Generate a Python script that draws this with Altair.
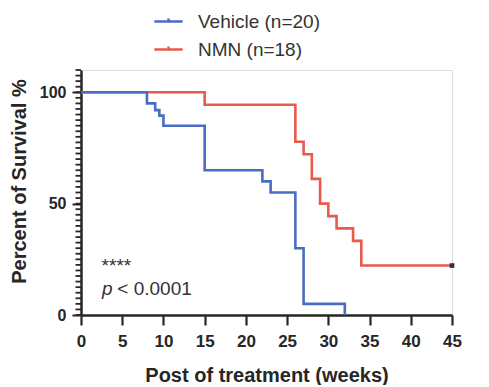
import altair as alt
import pandas as pd

# ---- data ----
groups = ["Vehicle (n=20)", "NMN (n=18)"]
colors = ["#4a6cc2", "#ea5a4c"]

veh_weeks = [0, 8, 9, 9.5, 10, 15, 22, 23, 26, 27, 32]
veh_surv = [100, 95, 92, 89.5, 85, 65, 60, 55, 30, 5, 0]

nmn_weeks = [0, 15, 26, 27, 28, 29, 30, 31, 33, 34, 45]
nmn_surv = [100, 94.4, 77.8, 72.2, 61.1, 50, 44.4, 38.9, 33.3, 22.2, 22.2]

censor_weeks = [45]
censor_surv = [22.2]

x_ticks = list(range(0, 46, 5))
y_major = [0, 50, 100]
y_minor = [i * 2.5 for i in range(45)]  # 0 .. 110, minor every 2.5

stars_text = ["****"]
stars_x = [2.5]
stars_y = [19.1]
p_text = ["p"]
p_x = [2.55]
p_y = [9.0]
pval_text = ["< 0.0001"]
pval_x = [4.4]
pval_y = [9.0]

FONT = "Liberation Sans"
INK = "#262626"

veh_df = pd.DataFrame({"week": veh_weeks, "surv": veh_surv, "group": groups[0]})
nmn_df = pd.DataFrame({"week": nmn_weeks, "surv": nmn_surv, "group": groups[1]})
cen_df = pd.DataFrame({"week": censor_weeks, "surv": censor_surv})
minor_df = pd.DataFrame({"surv": y_minor})

xscale = alt.Scale(domain=[0, 45], nice=False, zero=False)
yscale = alt.Scale(domain=[0, 110], nice=False)

xaxis = alt.Axis(
    values=x_ticks, title="Post of treatment (weeks)", grid=False,
    tickSize=10, tickWidth=2.2, tickColor=INK, domainColor=INK, domainWidth=2.5,
    labelFont=FONT, labelFontSize=17, labelFontWeight="bold", labelColor=INK,
    labelPadding=8, labelFlush=False,
    titleFont=FONT, titleFontSize=20, titleFontWeight="bold", titleColor=INK,
    titleBaseline="top", titleY=50,
)
yaxis = alt.Axis(
    values=y_major, title="Percent of Survival %", grid=False,
    tickSize=9, tickWidth=2, tickColor=INK, domainColor=INK, domainWidth=2.5,
    labelOverlap=False,
    labelFont=FONT, labelFontSize=16, labelFontWeight="bold", labelColor=INK,
    labelPadding=6,
    titleFont=FONT, titleFontSize=20, titleFontWeight="bold", titleColor=INK,
    titleX=-52, titleY=111,
)

X = alt.X("week:Q", scale=xscale, axis=xaxis)
Y = alt.Y("surv:Q", scale=yscale, axis=yaxis)

color = alt.Color(
    "group:N",
    scale=alt.Scale(domain=groups, range=colors),
    legend=alt.Legend(
        title=None, orient="none", legendX=72, legendY=-64,
        symbolType="M-1,0H1M0,0V-0.22", symbolSize=800, symbolStrokeWidth=2.5,
        labelFont=FONT, labelFontSize=19, labelColor="#333333",
        labelOffset=14, rowPadding=2, padding=0,
    ),
)

def line_layer(df):
    return alt.Chart(df).mark_line(interpolate="step-after", strokeWidth=2.6).encode(
        x=X, y=Y, color=color,
    )

nmn_line = line_layer(nmn_df)
veh_line = line_layer(veh_df)

# minor ticks on the y axis, positioned through the y scale
minor = alt.Chart(minor_df).mark_rule(color=INK, strokeWidth=1.8).encode(
    x=alt.value(0), x2=alt.value(-5.5), y=Y
)

censor = alt.Chart(cen_df).mark_square(size=22, color="#333333", opacity=1).encode(
    x=X, y=Y
)

def text_layer(txt, xs, ys, style="normal"):
    df = pd.DataFrame({"t": txt, "week": xs, "surv": ys})
    return alt.Chart(df).mark_text(
        align="left", baseline="alphabetic", font=FONT, fontSize=19,
        fontStyle=style, color="#333333"
    ).encode(x=X, y=Y, text="t:N")

stars = text_layer(stars_text, stars_x, stars_y)
p_lbl = text_layer(p_text, p_x, p_y, "italic")
pval = text_layer(pval_text, pval_x, pval_y)

chart = alt.layer(minor, nmn_line, veh_line, censor, stars, p_lbl, pval).properties(
    width=371, height=245,
    autosize=alt.AutoSizeParams(type="none"),
    padding={"left": 73, "top": 62, "right": 17, "bottom": 70},
).configure_view(stroke=None).configure(background="white")

chart.save("out.html", embed_options={"renderer": "svg", "actions": False})
